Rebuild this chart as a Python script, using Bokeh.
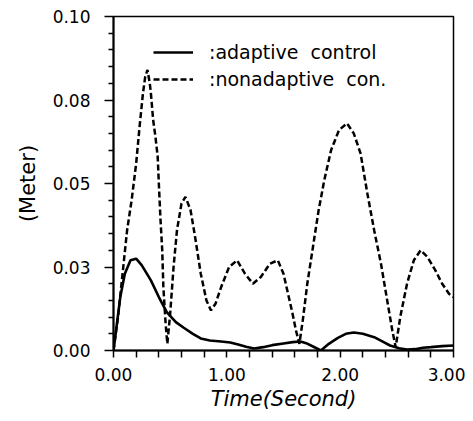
from bokeh.plotting import figure
from bokeh.models import FixedTicker, Legend, LegendItem, Range1d
from bokeh.embed import file_html
from bokeh.resources import INLINE

# ---- data ----
t_adaptive = [0.00, 0.03, 0.06, 0.10, 0.15, 0.20, 0.25, 0.33, 0.40, 0.47, 0.55, 0.62,
              0.70, 0.77, 0.85, 0.95, 1.03, 1.10, 1.17, 1.24, 1.32, 1.40, 1.50, 1.58,
              1.65, 1.70, 1.76, 1.83, 1.90, 1.98, 2.05, 2.12, 2.20, 2.30, 2.38, 2.44,
              2.52, 2.59, 2.66, 2.73, 2.80, 2.90, 3.00]
v_adaptive = [0.0000, 0.0080, 0.0160, 0.0230, 0.0270, 0.0275, 0.0255, 0.0210, 0.0160,
              0.0115, 0.0085, 0.0068, 0.0050, 0.0036, 0.0030, 0.0027, 0.0024, 0.0018,
              0.0011, 0.0006, 0.0010, 0.0016, 0.0021, 0.0025, 0.0027, 0.0022, 0.0012,
              0.0000, 0.0020, 0.0038, 0.0050, 0.0054, 0.0050, 0.0040, 0.0026, 0.0015,
              0.0007, 0.0003, 0.0004, 0.0008, 0.0010, 0.0013, 0.0015]

t_nonadaptive = [0.00, 0.04, 0.08, 0.12, 0.16, 0.20, 0.23, 0.26, 0.28, 0.30, 0.32, 0.33,
                 0.35, 0.37, 0.39, 0.40, 0.415, 0.43, 0.44, 0.46, 0.475, 0.50, 0.53,
                 0.56, 0.60, 0.635, 0.68, 0.72, 0.77, 0.82, 0.86, 0.90, 0.95, 1.02,
                 1.09, 1.16, 1.23, 1.30, 1.38, 1.45, 1.50, 1.54, 1.58, 1.61, 1.64, 1.67,
                 1.71, 1.76, 1.81, 1.86, 1.92, 1.99, 2.06, 2.12, 2.18, 2.24, 2.30, 2.36,
                 2.42, 2.46, 2.49, 2.53, 2.59, 2.65, 2.71, 2.77, 2.84, 2.90, 2.96, 3.00]
v_nonadaptive = [0.000, 0.010, 0.023, 0.036, 0.045, 0.056, 0.067, 0.077, 0.082, 0.084,
                 0.080, 0.077, 0.069, 0.064, 0.058, 0.050, 0.039, 0.030, 0.019, 0.008,
                 0.002, 0.011, 0.025, 0.036, 0.044, 0.046, 0.042, 0.034, 0.023, 0.015,
                 0.012, 0.014, 0.019, 0.025, 0.027, 0.023, 0.020, 0.022, 0.026, 0.027,
                 0.023, 0.017, 0.011, 0.006, 0.002, 0.009, 0.020, 0.031, 0.042, 0.051,
                 0.060, 0.066, 0.068, 0.065, 0.059, 0.047, 0.036, 0.026, 0.014, 0.006,
                 0.001, 0.010, 0.020, 0.027, 0.030, 0.028, 0.024, 0.020, 0.017, 0.016]

x_ticks = [0, 1, 2, 3]
x_tick_labels = ["0.00", "1.00", "2.00", "3.00"]
x_minor_ticks = [0.2, 0.4, 0.6, 0.8, 1.2, 1.4, 1.6, 1.8, 2.2, 2.4, 2.6, 2.8]
y_ticks = [0.0, 0.025, 0.05, 0.075, 0.1]
y_tick_labels = ["0.00", "0.03", "0.05", "0.08", "0.10"]
y_minor_ticks = [0.005, 0.01, 0.015, 0.02, 0.03, 0.035, 0.04, 0.045, 0.055, 0.06,
                 0.065, 0.07, 0.08, 0.085, 0.09, 0.095]

legend_labels = [":adaptive  control", ":nonadaptive  con."]
x_label = "Time(Second)"
y_label = "(Meter)"

FONT = "DejaVu Sans"

p = figure(frame_width=340, frame_height=334, output_backend="svg", toolbar_location=None,
           x_range=Range1d(0, 3), y_range=Range1d(0, 0.1),
           min_border_left=113, min_border_right=12, min_border_top=16, min_border_bottom=50)
p.background_fill_color = "white"
p.border_fill_color = "white"
p.outline_line_color = "black"
p.outline_line_width = 1.5
p.xgrid.visible = False
p.ygrid.visible = False

r1 = p.line(t_adaptive, v_adaptive, line_color="black", line_width=2.6)
r2 = p.line(t_nonadaptive, v_nonadaptive, line_color="black", line_width=2.5,
            line_dash="6 3")

for ax in (p.xaxis[0], p.yaxis[0]):
    ax.axis_line_width = 2
    ax.axis_line_color = "black"
    ax.major_tick_line_color = "black"
    ax.minor_tick_line_color = "black"
    ax.major_tick_line_width = 1.5
    ax.minor_tick_line_width = 1.5
    ax.major_tick_in = 0
    ax.minor_tick_in = 0
    ax.major_label_text_font = FONT
    ax.major_label_text_font_size = "17px"
    ax.major_label_text_color = "black"
    ax.axis_label_text_font = FONT
    ax.axis_label_text_font_size = "21px"
    ax.axis_label_text_font_style = "normal"
    ax.axis_label_text_color = "black"

p.xaxis.ticker = FixedTicker(ticks=x_ticks, minor_ticks=x_minor_ticks)
p.xaxis.major_label_overrides = dict(zip(x_ticks, x_tick_labels))
p.xaxis.major_tick_out = 7
p.xaxis.minor_tick_out = 7
p.xaxis.major_label_standoff = 10
p.xaxis.axis_label = x_label
p.xaxis.axis_label_standoff = 3
p.xaxis.axis_label_text_font_style = "italic"

p.yaxis.ticker = FixedTicker(ticks=y_ticks, minor_ticks=y_minor_ticks)
p.yaxis.major_label_overrides = dict(zip(y_ticks, y_tick_labels))
p.yaxis.major_tick_out = 9
p.yaxis.minor_tick_out = 5
p.yaxis.major_label_standoff = 14
p.yaxis.axis_label = y_label
p.yaxis.axis_label_standoff = 10

legend = Legend(items=[LegendItem(label=legend_labels[0], renderers=[r1]),
                       LegendItem(label=legend_labels[1], renderers=[r2])],
                location=(40, 260), padding=0, margin=0, spacing=5,
                glyph_width=40, glyph_height=20, label_standoff=16,
                label_text_font=FONT, label_text_font_size="19px",
                label_text_color="black",
                border_line_color=None, background_fill_alpha=0)
p.add_layout(legend)

open("out.html", "w").write(file_html(p, INLINE))
